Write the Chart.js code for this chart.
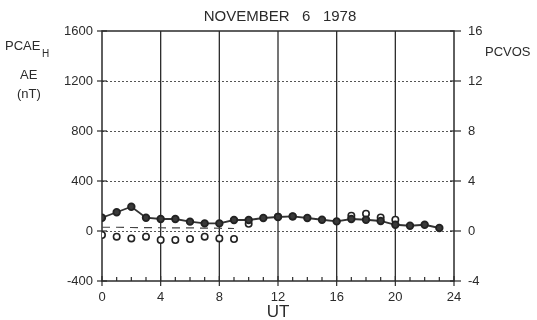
<!DOCTYPE html>
<html>
<head>
<meta charset="utf-8">
<script src="https://cdn.jsdelivr.net/npm/chart.js@4/dist/chart.umd.min.js"></script>
<style>
  html, body { margin: 0; padding: 0; background: #fff; }
  #chart { display: block; }
</style>
</head>
<body>
<canvas id="chart" width="537" height="320"></canvas>
<script>
// ── Data ─────────────────────────────────────────────────────
const hours   = [0, 1, 2, 3, 4, 5, 6, 7, 8, 9, 10, 11, 12, 13, 14, 15, 16, 17, 18, 19, 20, 21, 22, 23];
const pcaeH   = [106, 150, 194, 106, 96, 96, 75, 61, 61, 88, 88, 104, 112, 117, 104, 90, 77, 96, 90, 80, 50, 42, 50, 24];
const ae      = [30, 30, 28, 27, 26, 25, 25, 23, 22, 20];   // only hours 0-9
const pcvos   = [-0.32, -0.45, -0.59, -0.45, -0.72, -0.72, -0.64, -0.45, -0.59, -0.64,
                 0.58, null, 1.15, 1.17, null, null, null, 1.22, 1.38, 1.08, 0.9, null, null, null];

const xTicks     = [0, 4, 8, 12, 16, 20, 24];
const leftTicks  = [-400, 0, 400, 800, 1200, 1600];
const rightTicks = [-4, 0, 4, 8, 12, 16];

const FONT = '"Liberation Sans", Arial, Helvetica, sans-serif';
const INK  = '#2b2b2b';

// ── Frame, grid and tick marks drawn by hand ─────────────────
const framePlugin = {
  id: 'frame',
  beforeDatasetsDraw(chart) {
    const { ctx, chartArea: a, scales } = chart;
    const xs = scales.x, ys = scales.y, y2 = scales.y2;
    ctx.save();

    // dotted horizontal grid
    ctx.lineWidth = 1;
    ctx.setLineDash([2, 2]);
    ctx.strokeStyle = '#555';
    [0, 400, 800, 1200].forEach(v => {
      const py = Math.round(ys.getPixelForValue(v)) + 0.5;
      ctx.beginPath(); ctx.moveTo(a.left, py); ctx.lineTo(a.right, py); ctx.stroke();
    });
    ctx.setLineDash([]);

    // vertical grid
    ctx.strokeStyle = INK;
    ctx.lineWidth = 1.3;
    [4, 8, 12, 16, 20].forEach(v => {
      const px = xs.getPixelForValue(v);
      ctx.beginPath(); ctx.moveTo(px, a.top); ctx.lineTo(px, a.bottom); ctx.stroke();
    });

    // box
    ctx.lineWidth = 1.5;
    ctx.strokeRect(a.left, a.top, a.right - a.left, a.bottom - a.top);

    // left ticks (cross the axis)
    ctx.lineWidth = 1.2;
    leftTicks.forEach(v => {
      const py = ys.getPixelForValue(v);
      ctx.beginPath(); ctx.moveTo(a.left - 5, py); ctx.lineTo(a.left + 5, py); ctx.stroke();
    });
    // right ticks
    rightTicks.forEach(v => {
      const py = y2.getPixelForValue(v);
      ctx.beginPath(); ctx.moveTo(a.right - 4, py); ctx.lineTo(a.right + 7, py); ctx.stroke();
    });
    // bottom ticks: major + hourly minor
    for (let h = 0; h <= 24; h++) {
      const px = xs.getPixelForValue(h);
      const major = h % 4 === 0;
      ctx.beginPath();
      ctx.moveTo(px, a.bottom + (major ? 5 : 0));
      ctx.lineTo(px, a.bottom - (major ? 5 : 4));
      ctx.stroke();
    }

    // labels
    ctx.fillStyle = INK;
    ctx.textBaseline = 'middle';
    ctx.textAlign = 'center';
    ctx.font = `15px ${FONT}`;
    ctx.fillText('NOVEMBER   6   1978', 280, 17);
    ctx.font = `17px ${FONT}`;
    ctx.fillText('UT', 278, 312);

    ctx.textAlign = 'left';
    ctx.font = `13px ${FONT}`;
    ctx.fillText('PCAE', 5, 46);
    ctx.font = `10px ${FONT}`;
    ctx.fillText('H', 42, 54);
    ctx.font = `13px ${FONT}`;
    ctx.fillText('AE', 20, 75);
    ctx.fillText('(nT)', 17, 94);
    ctx.fillText('PCVOS', 485, 52);
    ctx.restore();
  }
};

// ── Chart ────────────────────────────────────────────────────
const plain = v => String(v);

const ctx = document.getElementById('chart').getContext('2d');
new Chart(ctx, {
  type: 'line',
  data: {
    datasets: [
      {
        label: 'PCAE_H',
        data: hours.map((h, i) => ({ x: h, y: pcaeH[i] })),
        yAxisID: 'y',
        borderColor: '#333',
        borderWidth: 1.8,
        pointBackgroundColor: '#3a3a3a',
        pointBorderColor: '#222',
        pointRadius: 3.3,
        tension: 0,
      },
      {
        label: 'AE',
        data: ae.map((v, i) => ({ x: hours[i], y: v })),
        yAxisID: 'y',
        borderColor: '#444',
        borderWidth: 1.2,
        borderDash: [8, 6],
        pointRadius: 0,
      },
      {
        label: 'PCVOS',
        data: hours.map((h, i) => ({ x: h, y: pcvos[i] })),
        yAxisID: 'y2',
        showLine: false,
        pointBackgroundColor: '#fff',
        pointBorderColor: '#222',
        pointBorderWidth: 1.6,
        pointRadius: 3.2,
      },
    ]
  },
  options: {
    responsive: false,
    animation: false,
    layout: { padding: { top: 31, left: 0, right: 0, bottom: 0 } },
    plugins: { legend: { display: false }, tooltip: { enabled: false } },
    scales: {
      x: {
        type: 'linear',
        min: 0, max: 24,
        afterBuildTicks: s => { s.ticks = xTicks.map(v => ({ value: v })); },
        afterFit: s => { s.height = 39; },
        grid: { display: false, drawTicks: false },
        border: { display: false },
        ticks: { color: INK, font: { family: FONT, size: 13 }, padding: 9, callback: plain },
      },
      y: {
        position: 'left',
        min: -400, max: 1600,
        afterBuildTicks: s => { s.ticks = leftTicks.map(v => ({ value: v })); },
        afterFit: s => { s.width = 102; },
        grid: { display: false, drawTicks: false },
        border: { display: false },
        ticks: { color: INK, font: { family: FONT, size: 13 }, padding: 9, callback: plain },
      },
      y2: {
        position: 'right',
        min: -4, max: 16,
        afterBuildTicks: s => { s.ticks = rightTicks.map(v => ({ value: v })); },
        afterFit: s => { s.width = 83; },
        grid: { display: false, drawTicks: false },
        border: { display: false },
        ticks: { color: INK, font: { family: FONT, size: 13 }, padding: 14, callback: plain },
      },
    }
  },
  plugins: [framePlugin]
});
</script>
</body>
</html>
